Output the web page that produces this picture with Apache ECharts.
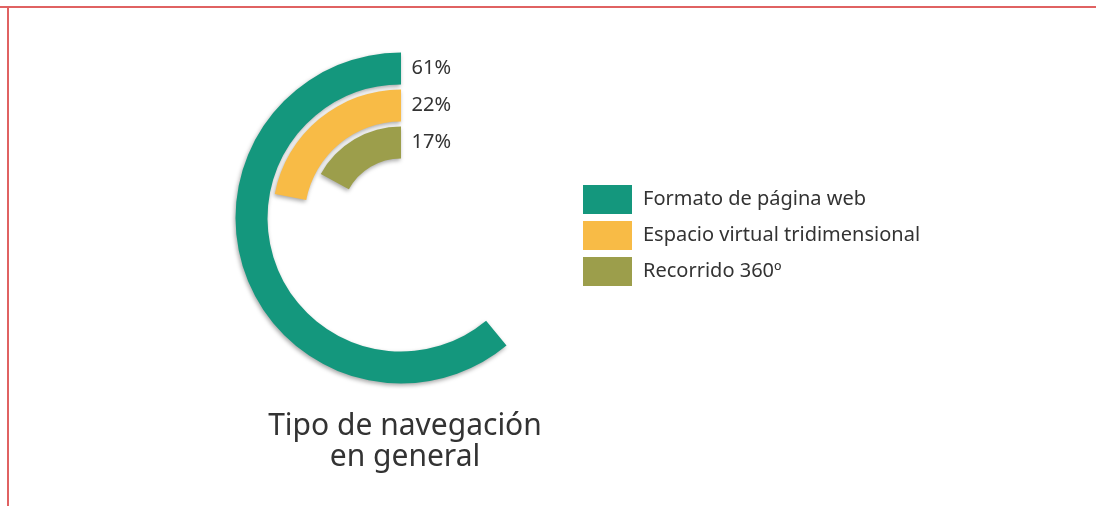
<!DOCTYPE html>
<html>
<head>
<meta charset="utf-8">
<script src="https://cdn.jsdelivr.net/npm/echarts@6/dist/echarts.min.js"></script>
<style>
  html, body { margin: 0; padding: 0; background: #fff; }
  #main { width: 1096px; height: 506px; }
</style>
</head>
<body>
<div id="main"></div>
<script>
// categorias de la grafica (de fuera hacia dentro)
const categories = ['Formato de página web', 'Espacio virtual tridimensional', 'Recorrido 360º'];
const values = [61, 22, 17];
const colors = ['#14977D', '#F8BB46', '#9C9E4B'];

const chart = echarts.init(document.getElementById('main'));

// una serie por categoria, apiladas para que compartan la misma banda
const series = categories.map(function (name, i) {
  return {
    name: name,
    type: 'bar',
    coordinateSystem: 'polar',
    stack: 'total',
    barWidth: 32,
    data: categories.map(function (c, j) { return j === i ? values[i] : '-'; }),
    itemStyle: {
      color: colors[i],
      shadowColor: 'rgba(0,0,0,0.35)',
      shadowBlur: 4,
      shadowOffsetX: -1,
      shadowOffsetY: 2
    }
  };
});

// etiquetas de porcentaje al inicio de cada barra (angulo 0)
series.push({
  name: 'etiquetas',
  type: 'scatter',
  coordinateSystem: 'polar',
  symbolSize: 1,
  itemStyle: { color: 'transparent', opacity: 1 },
  silent: true,
  data: categories.map(function (c) { return [c, 0]; }),
  label: {
    show: true,
    position: 'right',
    distance: 10,
    formatter: function (p) { return values[p.dataIndex] + '%'; },
    fontFamily: 'Noto Sans',
    fontSize: 20,
    color: '#333'
  }
});

const option = {
  animation: false,
  backgroundColor: '#fff',
  title: {
    text: 'Tipo de navegación\nen general',
    left: 400,
    top: 406,
    textAlign: 'center',
    textStyle: {
      fontFamily: 'Noto Sans',
      fontWeight: 'normal',
      fontSize: 30,
      lineHeight: 31,
      color: '#333'
    }
  },
  legend: {
    orient: 'vertical',
    left: 578,
    top: 180,
    icon: 'rect',
    itemWidth: 49,
    itemHeight: 29,
    itemGap: 7,
    data: categories,
    itemStyle: { shadowBlur: 0, shadowOffsetX: 0, shadowOffsetY: 0 },
    textStyle: {
      fontFamily: 'Noto Sans',
      fontSize: 20,
      color: '#333',
      padding: [0, 0, 0, 6]
    }
  },
  polar: {
    center: [401, 218],
    radius: [57, 168]
  },
  angleAxis: {
    show: false,
    min: 0,
    max: 100,
    startAngle: 90,
    clockwise: false
  },
  radiusAxis: {
    show: false,
    type: 'category',
    inverse: true,
    data: categories
  },
  graphic: [
    { type: 'line', shape: { x1: 0, y1: 7, x2: 1096, y2: 7 }, style: { stroke: '#E06262', lineWidth: 2 } },
    { type: 'line', shape: { x1: 8, y1: 6, x2: 8, y2: 506 }, style: { stroke: '#E06262', lineWidth: 2 } }
  ],
  series: series
};

chart.setOption(option);
</script>
</body>
</html>
